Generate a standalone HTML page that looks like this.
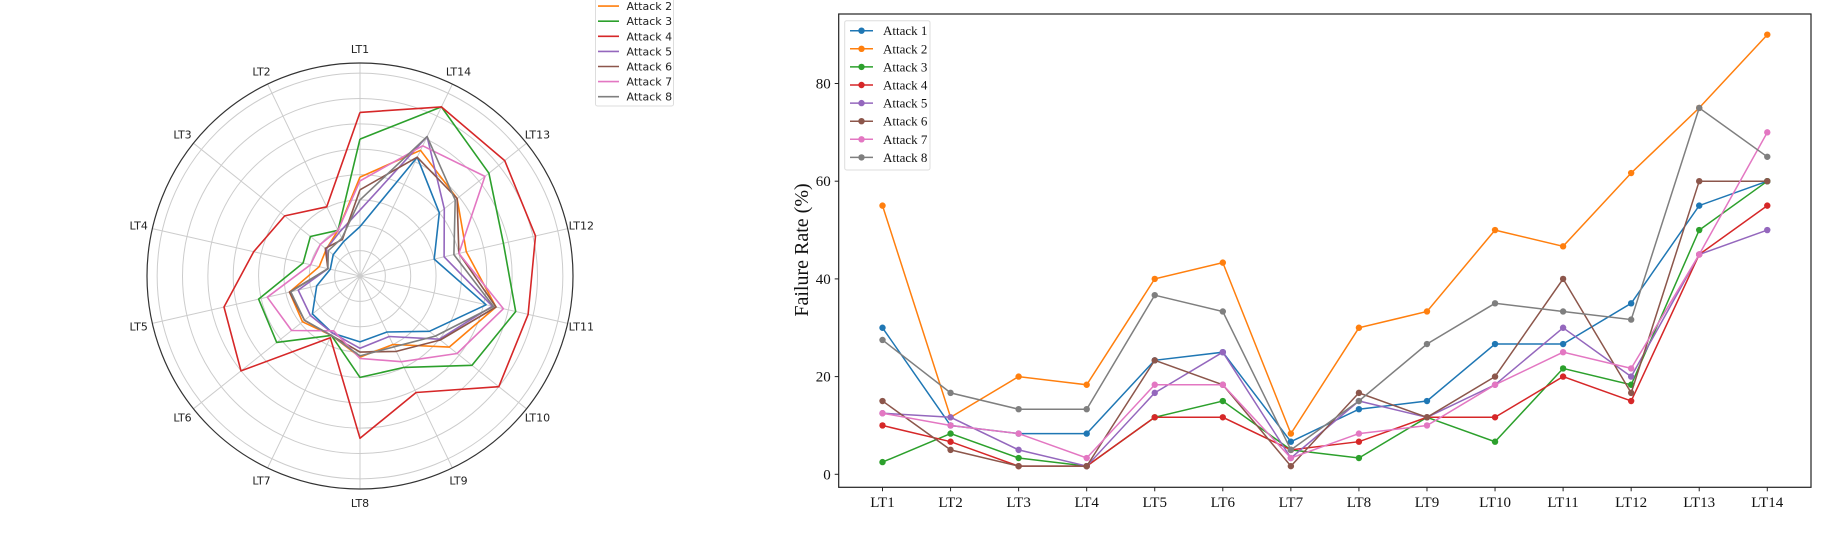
<!DOCTYPE html>
<html><head><meta charset="utf-8">
<style>
html,body{margin:0;padding:0;background:#fff;}
svg{display:block;}
</style></head>
<body>
<svg id="chart" width="1828" height="542" viewBox="0 0 1828 542" xmlns="http://www.w3.org/2000/svg"></svg>
<script>
const categories = ["LT1","LT2","LT3","LT4","LT5","LT6","LT7","LT8","LT9","LT10","LT11","LT12","LT13","LT14"];
const seriesNames = ["Attack 1","Attack 2","Attack 3","Attack 4","Attack 5","Attack 6","Attack 7","Attack 8"];
const colors = ["#1f77b4","#ff7f0e","#2ca02c","#d62728","#9467bd","#8c564b","#e377c2","#7f7f7f"];
// line chart values (%)
const attack1 = [30,10,8.33,8.33,23.33,25,6.67,13.33,15,26.67,26.67,35,55,60];
const attack2 = [55,11.67,20,18.33,40,43.33,8.33,30,33.33,50,46.67,61.67,75,90];
const attack3 = [2.5,8.33,3.33,1.67,11.67,15,5,3.33,11.67,6.67,21.67,18.33,50,60];
const attack4 = [10,6.67,1.67,1.67,11.67,11.67,5,6.67,11.67,11.67,20,15,45,55];
const attack5 = [12.5,11.67,5,1.67,16.67,25,3.33,15,11.67,18.33,30,20,45,50];
const attack6 = [15,5,1.67,1.67,23.33,18.33,1.67,16.67,11.67,20,40,16.67,60,60];
const attack7 = [12.5,10,8.33,3.33,18.33,18.33,3.33,8.33,10,18.33,25,21.67,45,70];
const attack8 = [27.5,16.67,13.33,13.33,36.67,33.33,5,15,26.67,35,33.33,31.67,75,65];
const yTicks = [0,20,40,60,80];
// radar values (radial units)
const radar1 = [1.95,1.5,1.35,1.2,1.75,2.4,2.5,2.6,2.45,3.5,5.1,3.0,4.0,5.2];
const radar2 = [3.9,2.0,1.7,1.65,2.85,2.9,2.6,3.2,3.0,4.5,5.5,4.3,4.9,5.5];
const radar3 = [5.4,2.0,2.5,2.3,4.1,4.2,2.6,4.0,4.0,5.65,6.3,5.8,6.5,7.4];
const radar4 = [6.45,3.03,3.8,4.3,5.5,6.0,2.7,6.4,5.1,7.0,6.8,7.1,7.3,7.4];
const radar5 = [2.6,1.9,1.7,1.3,2.5,2.5,2.5,2.85,2.65,4.0,5.35,3.4,4.25,6.1];
const radar6 = [3.4,1.6,1.75,1.3,2.85,2.8,2.6,3.0,3.3,4.05,5.5,4.0,4.9,5.2];
const radar7 = [3.75,2.0,2.0,2.0,3.75,3.45,2.4,3.25,3.75,4.9,5.8,4.0,6.3,5.7];
const radar8 = [3.0,1.65,1.6,1.3,2.8,2.8,2.6,3.15,3.1,3.8,5.4,3.8,4.8,6.1];
const rTicks = [1,2,3,4,5,6,7,8];

const lineData = [attack1,attack2,attack3,attack4,attack5,attack6,attack7,attack8];
const radarData = [radar1,radar2,radar3,radar4,radar5,radar6,radar7,radar8];

const NS = "http://www.w3.org/2000/svg";
const svg = document.getElementById("chart");
function mk(tag, attrs, parent){
  const e = document.createElementNS(NS, tag);
  for (const k in attrs) e.setAttribute(k, attrs[k]);
  (parent||svg).appendChild(e);
  return e;
}

/* ---------- Radar ---------- */
const cx = 360, cy = 276, R = 213, rMax = 8.4;
function rScale(v){ return v / rMax * R; }
function ang(i){ return Math.PI/2 + i * 2*Math.PI/categories.length; }
function pt(i, v){ const a = ang(i), r = rScale(v); return [cx + r*Math.cos(a), cy - r*Math.sin(a)]; }

const radarG = mk("g", {});


rTicks.forEach(t => {
  const c = mk("circle", {cx:cx, cy:cy, r:rScale(t), fill:"none", stroke:"#cccccc", "stroke-width":1}, radarG);
  
  
});
categories.forEach((c, i) => {
  const a = ang(i);
  const s = mk("line", {x1:cx, y1:cy, x2:cx+R*Math.cos(a), y2:cy-R*Math.sin(a), stroke:"#cccccc", "stroke-width":1}, radarG);
  
  
  const lr = 227;
  const t = mk("text", {x:cx+lr*Math.cos(a), y:cy-lr*Math.sin(a)+4, "text-anchor":"middle", "font-family":"DejaVu Sans, sans-serif", "font-size":"11", fill:"#222"}, radarG);
  t.textContent = c;
  
  
});
const outer = mk("circle", {cx:cx, cy:cy, r:R, fill:"none", stroke:"#333", "stroke-width":1.2}, radarG);


radarData.forEach((vals, si) => {
  const pts = vals.map((v,i)=>pt(i,v));
  pts.push(pts[0]);
  const p = mk("polyline", {points: pts.map(q=>q[0].toFixed(1)+","+q[1].toFixed(1)).join(" "), fill:"none", stroke:colors[si], "stroke-width":1.6, "stroke-linejoin":"round"}, radarG);
  
  
});
// radar legend
const rl = mk("g", {});


mk("rect", {x:595.5, y:-30, width:78, height:136, rx:2, fill:"#fff", stroke:"#dddddd", "stroke-width":1}, rl);
seriesNames.forEach((n, i) => {
  const y = -9 + i*15.1;
  const ln = mk("line", {x1:598, y1:y, x2:619, y2:y, stroke:colors[i], "stroke-width":1.6}, rl);
  
  
  const t = mk("text", {x:626.5, y:y+4, "font-family":"DejaVu Sans, sans-serif", "font-size":"11", fill:"#222"}, rl);
  t.textContent = n;
  
  
});

/* ---------- Line chart ---------- */
const L = 838.7, Rr = 1811, T = 14, B = 487.3;
const x0 = 882.5, dx = 68.06;
function xS(i){ return x0 + i*dx; }
function yS(v){ return 474.3 - v*4.885; }
const lg = mk("g", {});


const serif = "Liberation Serif, serif";
lineData.forEach((vals, si) => {
  const p = mk("polyline", {points: vals.map((v,i)=>xS(i).toFixed(1)+","+yS(v).toFixed(1)).join(" "), fill:"none", stroke:colors[si], "stroke-width":1.5}, lg);
  
  
  vals.forEach((v,i) => {
    const c = mk("circle", {cx:xS(i), cy:yS(v), r:3.2, fill:colors[si]}, lg);
    
    
  });
});
const frame = mk("rect", {x:L, y:T, width:Rr-L, height:B-T, fill:"none", stroke:"#222", "stroke-width":1.2}, lg);


yTicks.forEach(t => {
  const y = yS(t);
  mk("line", {x1:L-4, y1:y, x2:L, y2:y, stroke:"#222", "stroke-width":1}, lg);
  const tx = mk("text", {x:L-8, y:y+5, "text-anchor":"end", "font-family":serif, "font-size":"15", fill:"#111"}, lg);
  tx.textContent = t;
  
  
});
categories.forEach((c,i) => {
  const x = xS(i);
  mk("line", {x1:x, y1:B, x2:x, y2:B+4, stroke:"#222", "stroke-width":1}, lg);
  const tx = mk("text", {x:x, y:507, "text-anchor":"middle", "font-family":serif, "font-size":"15", fill:"#111"}, lg);
  tx.textContent = c;
  
  
});
const yt = mk("text", {x:0, y:0, transform:"translate(808,250) rotate(-90)", "text-anchor":"middle", "font-family":serif, "font-size":"20", fill:"#111"}, lg);
yt.textContent = "Failure Rate (%)";


// legend
const leg = mk("g", {});


mk("rect", {x:844.7, y:20.7, width:85.3, height:149.3, rx:2, fill:"#fff", stroke:"#dddddd", "stroke-width":1}, leg);
seriesNames.forEach((n,i) => {
  const y = 30.7 + i*18.1;
  const ln = mk("line", {x1:850, y1:y, x2:873, y2:y, stroke:colors[i], "stroke-width":1.5}, leg);
  
  
  const c = mk("circle", {cx:861.5, cy:y, r:3.2, fill:colors[i]}, leg);
  
  
  const t = mk("text", {x:883, y:y+4.5, "font-family":serif, "font-size":"13", fill:"#111"}, leg);
  t.textContent = n;
  
  
});
</script>
</body></html>
